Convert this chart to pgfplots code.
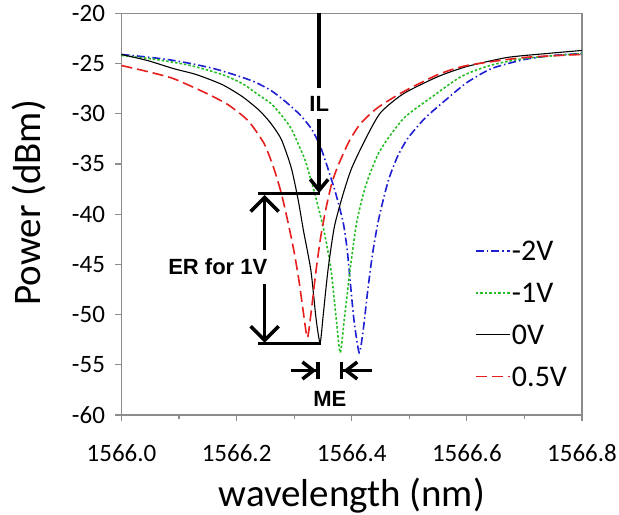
\documentclass[border=0pt]{standalone}
\usepackage{fontspec}
\setmainfont{Carlito}
\newfontfamily\annfont{Liberation Sans}
\usepackage{pgfplots}
\pgfplotsset{compat=1.18}
\usetikzlibrary{arrows.meta}

\definecolor{cblue}{RGB}{30,30,210}
\definecolor{cgreen}{RGB}{40,190,40}
\definecolor{cred}{RGB}{230,30,30}
\definecolor{frame}{RGB}{140,140,140}

% wavelength is stored as offset from 1566 nm
\pgfplotstableread{
x y
0.000 -24.1
0.035 -24.3
0.080 -24.6
0.120 -25.0
0.160 -25.5
0.195 -26.1
0.230 -26.8
0.260 -27.7
0.285 -28.8
0.310 -30.1
0.330 -31.5
0.345 -33.2
0.356 -35.0
0.371 -37.7
0.385 -40.8
0.392 -43.5
0.397 -46.5
0.404 -50.6
0.413 -53.8
0.420 -51.5
0.428 -47.5
0.436 -44.0
0.445 -41.0
0.455 -38.5
0.465 -36.4
0.480 -34.2
0.498 -32.4
0.528 -30.4
0.568 -28.4
0.600 -26.9
0.643 -25.5
0.700 -24.6
0.750 -24.2
0.800 -24.0
}\mtwo

\pgfplotstableread{
x y
0.000 -24.2
0.060 -24.6
0.120 -25.2
0.175 -26.1
0.210 -27.0
0.235 -28.0
0.260 -29.0
0.280 -30.3
0.295 -31.5
0.310 -33.4
0.320 -34.8
0.336 -38.0
0.350 -41.2
0.358 -43.5
0.365 -46.0
0.373 -50.4
0.380 -53.8
0.387 -50.5
0.397 -45.6
0.408 -41.0
0.420 -38.0
0.430 -36.2
0.446 -34.0
0.465 -32.3
0.493 -30.3
0.540 -28.3
0.590 -26.3
0.640 -25.2
0.700 -24.5
0.800 -24.0
}\mone

\pgfplotstableread{
x y
0.000 -24.1
0.045 -24.7
0.090 -25.5
0.130 -26.1
0.175 -27.1
0.210 -28.3
0.240 -29.7
0.260 -31.0
0.278 -32.6
0.295 -35.4
0.307 -38.6
0.316 -41.6
0.329 -45.6
0.338 -50.4
0.345 -52.8
0.350 -50.3
0.355 -47.5
0.360 -45.0
0.370 -41.2
0.385 -38.0
0.400 -35.4
0.425 -32.4
0.450 -29.9
0.490 -28.0
0.550 -26.3
0.600 -25.3
0.670 -24.4
0.740 -24.0
0.800 -23.7
}\zero

\pgfplotstableread{
x y
0.000 -25.2
0.045 -25.8
0.090 -26.5
0.145 -27.9
0.185 -29.1
0.220 -30.7
0.248 -33.0
0.265 -35.5
0.278 -38.0
0.290 -41.0
0.300 -43.8
0.308 -46.5
0.316 -49.8
0.323 -52.3
0.330 -49.5
0.338 -45.6
0.346 -42.3
0.355 -39.5
0.365 -37.0
0.376 -35.2
0.395 -32.8
0.415 -31.0
0.445 -29.4
0.490 -27.8
0.550 -26.1
0.600 -25.2
0.700 -24.4
0.800 -24.1
}\half

\begin{document}
\begin{tikzpicture}
\useasboundingbox (-121.5bp,-100bp) rectangle (497.5bp,415bp);
\begin{axis}[
  at={(0,0)}, anchor=south west,
  width=460.5bp, height=401.7bp, scale only axis,
  xmin=0, xmax=0.8, ymin=-60, ymax=-20,
  xtick={0,0.2,0.4,0.6,0.8},
  xticklabels={1566.0,1566.2,1566.4,1566.6,1566.8},
  minor xtick={0.1,0.3,0.5,0.7},
  ytick={-60,-55,...,-20},
  xtick pos=bottom, ytick pos=left,
  tick align=outside,
  major tick length=6bp, minor tick length=4bp,
  every tick/.style={frame, line width=1.2bp},
  axis line style={frame, line width=1.5bp},
  /pgf/number format/assume math mode=true,
  tick label style={font=\fontsize{25bp}{28bp}\selectfont},
  xticklabel style={yshift=-20bp},
  yticklabel style={xshift=-7bp},
  xlabel={wavelength (nm)},
  ylabel={Power (dBm)},
  label style={font=\fontsize{39bp}{44bp}\selectfont},
  xlabel style={at={(axis description cs:0.5,-0.227)}, anchor=base},
  ylabel style={at={(axis description cs:-0.176,0.528)}, anchor=base},
  legend cell align=left,
  legend style={draw=none, fill=none, inner sep=0pt,
    at={(axis description cs:0.767,0.46)}, anchor=north west,
    font=\fontsize{30bp}{34bp}\selectfont,
    nodes={inner ysep=0pt, inner xsep=1.5bp, text height=30.5bp, text depth=11.2bp},
    row sep=0pt},
  legend image code/.code={\draw[#1] (0bp,0bp) -- (34bp,0bp);},
]
\addplot[cblue, line width=1.6bp, smooth, tension=0.4,
  dash pattern=on 8bp off 3bp on 1.5bp off 3bp] table {\mtwo};
\addlegendentry{-2V}
\addplot[cgreen, line width=1.6bp, smooth, tension=0.4,
  dash pattern=on 2.5bp off 2bp] table {\mone};
\addlegendentry{-1V}
\addplot[black, line width=1.1bp, smooth, tension=0.4] table {\zero};
\addlegendentry{0V}
\addplot[cred, line width=1.6bp, smooth, tension=0.4,
  dash pattern=on 11bp off 5bp] table {\half};
\addlegendentry{0.5V}

% annotations
\draw[line width=3.5bp, -{Straight Barb[length=11bp,width=18bp]}]
  (axis cs:0.3434,-20) -- (axis cs:0.3434,-37.9);
\draw[line width=3.5bp] (axis cs:0.2373,-37.96) -- (axis cs:0.3450,-37.96);
\draw[line width=3.5bp] (axis cs:0.2373,-52.9) -- (axis cs:0.3470,-52.9);
\draw[line width=3.5bp, {Straight Barb[length=14bp,width=28bp]}-{Straight Barb[length=14bp,width=28bp]}]
  (axis cs:0.2487,-38.1) -- (axis cs:0.2487,-52.8);
\draw[line width=3.5bp, -{Straight Barb[length=11bp,width=17bp] Bar[width=17bp]}]
  (axis cs:0.295,-55.57) -- (axis cs:0.3445,-55.57);
\draw[line width=3.5bp, -{Straight Barb[length=11bp,width=17bp] Bar[width=17bp]}]
  (axis cs:0.4346,-55.57) -- (axis cs:0.3794,-55.57);
\node[fill=white, inner xsep=1bp, inner ysep=8bp, font=\annfont\bfseries\fontsize{22bp}{24bp}\selectfont]
  at (axis cs:0.3434,-29.0) {IL};
\node[fill=white, inner xsep=1bp, inner ysep=9bp, font=\annfont\bfseries\fontsize{22bp}{24bp}\selectfont]
  at (axis cs:0.1673,-45.27) {ER for 1V};
\node[inner sep=0pt, font=\annfont\bfseries\fontsize{22bp}{24bp}\selectfont]
  at (axis cs:0.362,-58.4) {ME};
\end{axis}
\end{tikzpicture}
\end{document}
